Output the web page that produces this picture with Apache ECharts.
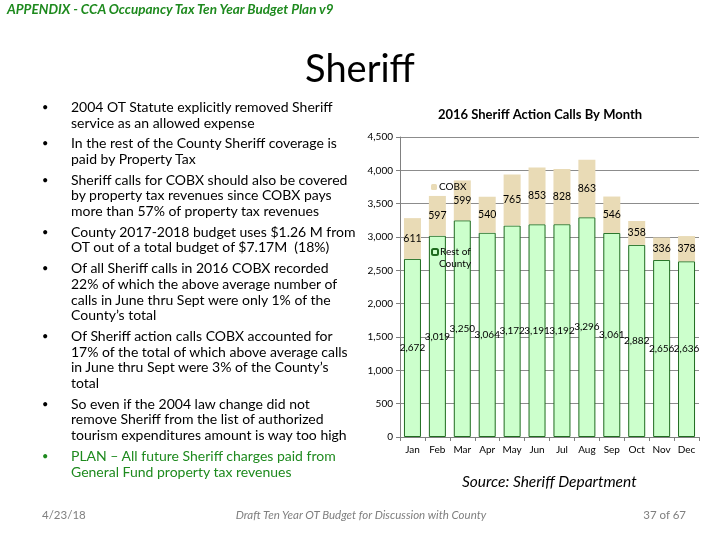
<!DOCTYPE html>
<html>
<head>
<meta charset="utf-8">
<script src="https://cdn.jsdelivr.net/npm/echarts@6/dist/echarts.min.js"></script>
<style>
  html, body { margin: 0; padding: 0; background: #fff; }
  #slide { position: relative; width: 720px; height: 540px; overflow: hidden; font-family: Lato, "Open Sans", sans-serif; }
  #chart { position: absolute; left: 0; top: 0; width: 720px; height: 540px; }
  .abs { position: absolute; white-space: nowrap; }
  #hdr { left: 7px; top: 1px; font-size: 13.5px; font-weight: bold; font-style: italic; color: #1e8a1e; }
  #ttl { left: 0; width: 720px; text-align: center; top: 44px; font-size: 38px; color: #000; }
  #bul { position: absolute; left: 42px; top: 99px; font-size: 14px; line-height: 15.8px; color: #000; }
  .b { position: relative; padding-left: 29px; margin-bottom: 4.7px; white-space: nowrap; }
  .b::before { content: "•"; position: absolute; left: 0; top: 0; font-size: 11px; }
  .g { color: #1e8a1e; }
  #src { left: 462px; top: 472px; font-size: 15.5px; font-style: italic; color: #000; }
  .ft { top: 508px; font-size: 11.5px; color: #7f7f7f; }
</style>
</head>
<body>
<div id="slide">
  <div id="chart"></div>
  <div class="abs" id="hdr">APPENDIX - CCA Occupancy Tax Ten Year Budget Plan v9</div>
  <div class="abs" id="ttl">Sheriff</div>
  <div id="bul">
    <div class="b">2004 OT Statute explicitly removed Sheriff<br>service as an allowed expense</div>
    <div class="b">In the rest of the County Sheriff coverage is<br>paid by Property Tax</div>
    <div class="b">Sheriff calls for COBX should also be covered<br>by property tax revenues since COBX pays<br>more than 57% of property tax revenues</div>
    <div class="b">County 2017-2018 budget uses $1.26 M from<br>OT out of a total budget of $7.17M&nbsp; (18%)</div>
    <div class="b">Of all Sheriff calls in 2016 COBX recorded<br>22% of which the above average number of<br>calls in June thru Sept were only 1% of the<br>County’s total</div>
    <div class="b">Of Sheriff action calls COBX accounted for<br>17% of the total of which above average calls<br>in June thru Sept were 3% of the County’s<br>total</div>
    <div class="b">So even if the 2004 law change did not<br>remove Sheriff from the list of authorized<br>tourism expenditures amount is way too high</div>
    <div class="b g">PLAN – All future Sheriff charges paid from<br>General Fund property tax revenues</div>
  </div>
  <div class="abs" id="src">Source: Sheriff Department</div>
  <div class="abs ft" style="left:42px;">4/23/18</div>
  <div class="abs ft" style="left:0;width:722px;text-align:center;font-style:italic;">Draft Ten Year OT Budget for Discussion with County</div>
  <div class="abs ft" style="right:34px;">37 of 67</div>
</div>
<script>
const months = ['Jan','Feb','Mar','Apr','May','Jun','Jul','Aug','Sep','Oct','Nov','Dec'];
const restOfCounty = [2672, 3019, 3250, 3064, 3172, 3191, 3192, 3296, 3061, 2882, 2656, 2636];
const cobx = [611, 597, 599, 540, 765, 853, 828, 863, 546, 358, 336, 378];
const yTicks = { min: 0, max: 4500, interval: 500 };

const chart = echarts.init(document.getElementById('chart'));
const fmt = v => v.toLocaleString('en-US');
chart.setOption({
  animation: false,
  textStyle: { fontFamily: 'Lato, "Open Sans", sans-serif' },
  title: {
    text: '2016 Sheriff Action Calls By Month',
    left: 535, top: 103, textAlign: 'center',
    textStyle: { fontSize: 13, fontWeight: 'bold', color: '#000' }
  },
  legend: [
    { data: ['COBX'], left: 426, top: 177, itemWidth: 6, itemHeight: 6, z: 10,
      textStyle: { fontSize: 10, color: '#000', padding: [0,0,0,-3] } },
    { data: ['Rest of County'], left: 426, top: 242, itemWidth: 6, itemHeight: 6, z: 10,
      formatter: () => 'Rest of',
      textStyle: { fontSize: 10, color: '#000', padding: [0,0,0,-3] } }
  ],
  graphic: [
    { type: 'text', left: 439, top: 259, z: 100, style: { text: 'County', fontSize: 10, fill: '#000', fontFamily: 'Lato, sans-serif' } }
  ],
  grid: { left: 400, right: 21, top: 137, bottom: 103 },
  xAxis: {
    type: 'category', data: months,
    axisLine: { lineStyle: { color: '#808080' } },
    axisTick: { show: true, lineStyle: { color: '#808080' }, length: 4 },
    axisLabel: { color: '#000', fontSize: 10, margin: 8 }
  },
  yAxis: {
    type: 'value', min: yTicks.min, max: yTicks.max, interval: yTicks.interval,
    axisLine: { show: true, lineStyle: { color: '#808080' } },
    axisTick: { show: true, length: 4, lineStyle: { color: '#808080' } },
    splitLine: { lineStyle: { color: '#8c8c8c' } },
    axisLabel: { color: '#000', fontSize: 10, margin: 7, formatter: fmt }
  },
  series: [
    { name: 'Rest of County', type: 'bar', stack: 'a', data: restOfCounty, barWidth: 17,
      itemStyle: { color: '#ccffcc', borderColor: '#1f6b1f', borderWidth: 1 },
      label: { show: true, position: 'inside', color: '#000', fontSize: 10, formatter: p => fmt(p.value) } },
    { name: 'COBX', type: 'bar', stack: 'a', data: cobx, barWidth: 17,
      itemStyle: { color: '#e9dbb6' },
      label: { show: true, position: 'inside', color: '#000', fontSize: 10.5, formatter: p => fmt(p.value) } }
  ]
});
</script>
</body>
</html>
